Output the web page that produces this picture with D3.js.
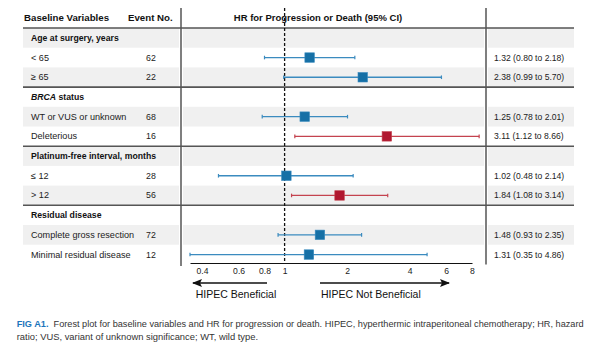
<!DOCTYPE html>
<html><head><meta charset="utf-8">
<script src="https://cdn.jsdelivr.net/npm/d3@7"></script>
<style>
html,body{margin:0;padding:0;background:#fff;}
svg{display:block;font-family:"Liberation Sans",Arial,sans-serif;}
</style></head>
<body><svg id="c" width="600" height="357"></svg>
<script>
// ---- data ----
const groupNames = ["Age at surgery, years", "BRCA status", "Platinum-free interval, months", "Residual disease"];
const subgroupLabels = ["< 65", "≥ 65", "WT or VUS or unknown", "Deleterious", "≤ 12", "> 12", "Complete gross resection", "Minimal residual disease"];
const subgroupGroup = [0, 0, 1, 1, 2, 2, 3, 3];
const eventCounts = [62, 22, 68, 16, 28, 56, 72, 12];
const hrValues = [1.32, 2.38, 1.25, 3.11, 1.02, 1.84, 1.48, 1.31];
const ciLower = [0.80, 0.99, 0.78, 1.12, 0.48, 1.08, 0.93, 0.35];
const ciUpper = [2.18, 5.70, 2.01, 8.66, 2.14, 3.14, 2.35, 4.86];
const tickValues = [0.4, 0.6, 0.8, 1, 2, 4, 6, 8];
const axisDomain = [0.35, 8];
const headers = ["Baseline Variables", "Event No.", "HR for Progression or Death (95% CI)"];
const arrowLabels = ["HIPEC Beneficial", "HIPEC Not Beneficial"];
const captionLead = "FIG A1.";
const captionLines = [
  "Forest plot for baseline variables and HR for progression or death. HIPEC, hyperthermic intraperitoneal chemotherapy; HR, hazard",
  "ratio; VUS, variant of unknown significance; WT, wild type."
];

// ---- build rows ----
const rows = [];
groupNames.forEach((g, gi) => {
  rows.push({type: "group", gi, label: g});
  subgroupLabels.forEach((s, i) => {
    if (subgroupGroup[i] === gi) rows.push({type: "sub", gi, i, label: s});
  });
});

const svg = d3.select("#c");
const tableL = 23, tableR = 574;
const div1 = 181, div2 = 486;
const y = d3.scaleBand().domain(d3.range(rows.length)).range([28, 264.4]).paddingInner(0).paddingOuter(0);
const x = d3.scaleLog().domain(axisDomain).range([190, 472]);

const blueSq = "#1670a6", blueLn = "#3b8bbf";
const redSq = "#b0172f", redLn = "#c4434f";
const stripe = "#f0f0f0", rule = "#555";

// stripes
const segs = [[tableL, div1 - 2], [div1 + 2, div2 - 2], [div2 + 2, tableR]];
rows.forEach((r, k) => {
  if (k % 2 === 0) {
    segs.forEach(s => {
      svg.append("rect").attr("x", s[0]).attr("y", y(k)).attr("width", s[1] - s[0]).attr("height", y.bandwidth()).attr("fill", stripe);
    });
  }
});

// header
svg.append("text").attr("x", 24).attr("y", 20.5).attr("font-size", 9.7).attr("font-weight", "bold").attr("fill", "#111").text(headers[0]);
svg.append("text").attr("x", 172.7).attr("y", 20.5).attr("text-anchor", "end").attr("font-size", 9.7).attr("font-weight", "bold").attr("fill", "#111").text(headers[1]);
svg.append("text").attr("x", 318).attr("y", 20.5).attr("text-anchor", "middle").attr("font-size", 9.5).attr("font-weight", "bold").attr("fill", "#111").text(headers[2]);

// horizontal rules: header line + group separators
const ruleYs = [28];
rows.forEach((r, k) => { if (r.type === "group" && k > 0) ruleYs.push(y(k)); });
ruleYs.forEach(ry => {
  svg.append("line").attr("x1", tableL).attr("x2", tableR).attr("y1", ry).attr("y2", ry).attr("stroke", rule).attr("stroke-width", 1.6);
});

// vertical dividers
svg.append("line").attr("x1", div1).attr("x2", div1).attr("y1", 8).attr("y2", 266).attr("stroke", rule).attr("stroke-width", 1.5);
svg.append("line").attr("x1", div2).attr("x2", div2).attr("y1", 8).attr("y2", 264.5).attr("stroke", rule).attr("stroke-width", 1.5);

// reference dashed line at HR=1
svg.append("line").attr("x1", x(1)).attr("x2", x(1)).attr("y1", 8).attr("y2", 263).attr("stroke", "#111").attr("stroke-width", 1.3).attr("stroke-dasharray", "3,2");

// row labels and marks
rows.forEach((r, k) => {
  const cy = y(k) + y.bandwidth() / 2 + 3;
  if (r.type === "group") {
    const t = svg.append("text").attr("x", 31).attr("y", cy).attr("font-size", 8.7).attr("font-weight", "bold").attr("fill", "#111");
    if (r.label.startsWith("BRCA")) {
      t.append("tspan").attr("font-style", "italic").text("BRCA");
      t.append("tspan").text(r.label.slice(4));
    } else t.text(r.label);
  } else {
    const i = r.i;
    svg.append("text").attr("x", 31).attr("y", cy).attr("font-size", 9.1).attr("fill", "#222").text(r.label);
    svg.append("text").attr("x", 146).attr("y", cy).attr("font-size", 8.8).attr("fill", "#222").text(eventCounts[i]);
    svg.append("text").attr("x", 494).attr("y", cy).attr("font-size", 8.6).attr("fill", "#222")
      .text(`${hrValues[i].toFixed(2)} (${ciLower[i].toFixed(2)} to ${ciUpper[i].toFixed(2)})`);
    const sig = ciLower[i] > 1;
    const ln = sig ? redLn : blueLn, sq = sig ? redSq : blueSq;
    const my = y(k) + y.bandwidth() / 2;
    svg.append("line").attr("x1", x(ciLower[i])).attr("x2", x(ciUpper[i])).attr("y1", my).attr("y2", my).attr("stroke", ln).attr("stroke-width", 1.3);
    [ciLower[i], ciUpper[i]].forEach(v => {
      svg.append("line").attr("x1", x(v)).attr("x2", x(v)).attr("y1", my - 1.8).attr("y2", my + 1.8).attr("stroke", ln).attr("stroke-width", 1.2);
    });
    const s = 9.5;
    svg.append("rect").attr("x", x(hrValues[i]) - s / 2).attr("y", my - s / 2).attr("width", s).attr("height", s)
      .attr("fill", sq).attr("stroke", ln).attr("stroke-width", 0.6);
  }
});

// axis
const axisY = 263;
const ax = svg.append("g").attr("transform", `translate(0,${axisY})`)
  .call(d3.axisBottom(x).tickValues(tickValues).tickSize(0).tickPadding(5).tickFormat(d3.format("~g")));
ax.select(".domain").attr("stroke", "#111").attr("stroke-width", 1);
ax.selectAll("text").attr("font-size", 8.6).attr("fill", "#222").attr("font-family", "Liberation Sans, Arial, sans-serif");

// arrows
const defs = svg.append("defs");
defs.append("marker").attr("id", "ah").attr("viewBox", "0 0 10 8").attr("refX", 9).attr("refY", 4)
  .attr("markerWidth", 10).attr("markerHeight", 8).attr("markerUnits", "userSpaceOnUse").attr("orient", "auto")
  .append("path").attr("d", "M0,0 L10,4 L0,8 L2,4 Z").attr("fill", "#111");
const arrY = 283;
svg.append("line").attr("x1", 267).attr("x2", 193).attr("y1", arrY).attr("y2", arrY).attr("stroke", "#111").attr("stroke-width", 1.3).attr("marker-end", "url(#ah)");
svg.append("line").attr("x1", 320).attr("x2", 449).attr("y1", arrY).attr("y2", arrY).attr("stroke", "#111").attr("stroke-width", 1.3).attr("marker-end", "url(#ah)");
svg.append("text").attr("x", 195.7).attr("y", 298).attr("font-size", 10.5).attr("fill", "#111").text(arrowLabels[0]);
svg.append("text").attr("x", 321).attr("y", 298).attr("font-size", 10.5).attr("fill", "#111").text(arrowLabels[1]);

// caption (horizontally condensed to fit like the reference's condensed face)
function fitText(sel, x0, target) {
  const w = sel.node().getComputedTextLength();
  const k = target / w;
  sel.attr("x", 0).attr("transform", `translate(${x0},0) scale(${k},1)`);
}
const c1 = svg.append("text").attr("y", 327.5).attr("font-size", 9.6).attr("fill", "#333");
c1.append("tspan").attr("fill", "#1c75bc").attr("font-weight", "bold").text(captionLead);
c1.append("tspan").attr("xml:space", "preserve").text("\u00a0 " + captionLines[0]);
fitText(c1, 16.7, 568);
const c2 = svg.append("text").attr("y", 340.5).attr("font-size", 9.6).attr("fill", "#333").text(captionLines[1]);
fitText(c2, 16.7, 241.5);
</script>
</body></html>
